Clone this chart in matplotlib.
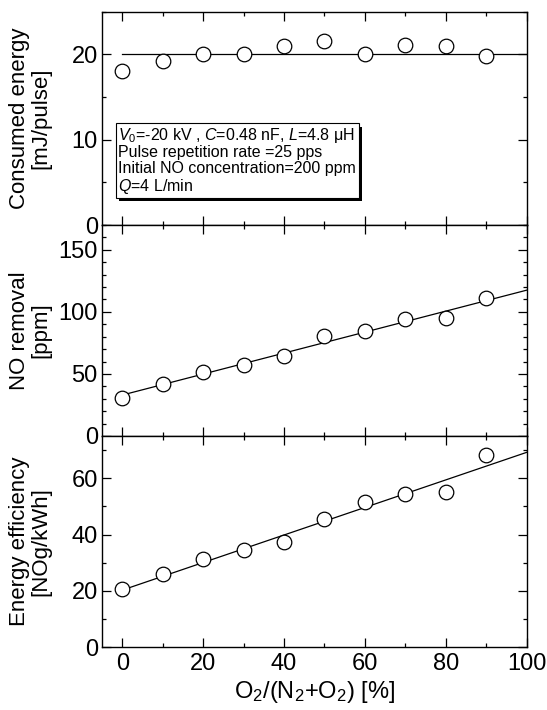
import numpy as np
import matplotlib
matplotlib.use("Agg")
import matplotlib.pyplot as plt
from matplotlib.ticker import MultipleLocator
import matplotlib.patheffects as pe

plt.rcParams['font.family'] = ['Liberation Sans', 'DejaVu Sans']
plt.rcParams['mathtext.fontset'] = 'custom'
plt.rcParams['mathtext.rm'] = 'Liberation Sans'
plt.rcParams['mathtext.it'] = 'Liberation Sans:italic'

# ---- data ----
o2_ratio = [0, 10, 20, 30, 40, 50, 60, 70, 80, 90]
consumed_energy = [18.0, 19.2, 20.0, 20.1, 21.0, 21.6, 20.0, 21.1, 21.0, 19.8]
no_removal = [30.8, 41.5, 51.5, 57.4, 64.3, 80.2, 84.2, 94.1, 95.1, 111.3]
energy_eff = [20.6, 26.1, 31.4, 34.7, 37.4, 45.5, 51.4, 54.5, 55.3, 68.4]

fit_x = [0, 100]
fit_energy = [20.1, 20.1]
fit_removal = [33.0, 117.5]
fit_eff = [20.3, 69.2]

ylabels = ["Consumed energy\n[mJ/pulse]", "NO removal\n[ppm]", "Energy efficiency\n[NOg/kWh]"]
ylims = [(0, 25), (0, 170), (0, 75)]
ymajor = [10, 50, 20]
yminor = [5, 10, 10]

W, H = 547, 710
fig = plt.figure(figsize=(W / 100, H / 100), dpi=100)
left_px, right_px = 102, 526.7
bounds = [11.7, 225, 436, 647.3]
axes = []
for i in range(3):
    y_top, y_bot = bounds[i], bounds[i + 1]
    ax = fig.add_axes([left_px / W, 1 - y_bot / H, (right_px - left_px) / W, (y_bot - y_top) / H])
    axes.append(ax)

series = [consumed_energy, no_removal, energy_eff]
fits = [fit_energy, fit_removal, fit_eff]
for i, ax in enumerate(axes):
    ax.plot(fit_x, fits[i], color='black', lw=0.9, zorder=2)
    ax.plot(o2_ratio, series[i], 'o', ms=10.5, mfc='white', mec='black', mew=0.9, zorder=3, clip_on=False)
    ax.set_xlim(-5, 100)
    ax.set_ylim(*ylims[i])
    ax.xaxis.set_major_locator(MultipleLocator(20))
    ax.xaxis.set_minor_locator(MultipleLocator(10))
    ax.yaxis.set_major_locator(MultipleLocator(ymajor[i]))
    ax.yaxis.set_minor_locator(MultipleLocator(yminor[i]))
    ax.tick_params(which='both', direction='in', top=True, right=True, width=0.9)
    ax.tick_params(which='major', length=6.5, labelsize=17, pad=3)
    ax.tick_params(which='minor', length=3.2)
    for s in ax.spines.values():
        s.set_linewidth(1.0)
    ax.set_ylabel(ylabels[i], fontsize=16, linespacing=0.98)
    ax.yaxis.set_label_coords(-0.12, 0.5)
    if i < 2:
        ax.tick_params(labelbottom=False)

axes[2].tick_params(axis='x', which='major', pad=4)
axes[2].set_xlabel("O$_2$/(N$_2$+O$_2$) [%]", fontsize=17, labelpad=3)

info = ("$V_0$=-20 kV , $C$=0.48 nF, $L$=4.8 μH\n"
        "Pulse repetition rate =25 pps\n"
        "Initial NO concentration=200 ppm\n"
        "$Q$=4 L/min")
t = axes[0].text(-0.95, 3.45, info, fontsize=11.5, ha='left', va='bottom', linespacing=1.05,
                 bbox=dict(boxstyle='square,pad=0.15', fc='white', ec='black', lw=0.8), zorder=5)
t.get_bbox_patch().set_path_effects([pe.SimplePatchShadow(offset=(2.5, -2.5), shadow_rgbFace='black', alpha=1.0),
                                     pe.Normal()])

fig.savefig("out.png", dpi=100)
